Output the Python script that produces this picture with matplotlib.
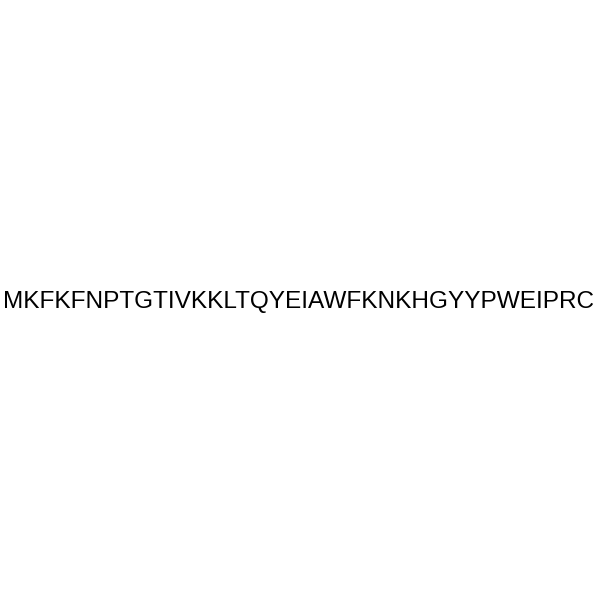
import matplotlib
matplotlib.use("Agg")
import matplotlib.pyplot as plt

# peptide sequence shown in the picture
sequence = "MKFKFNPTGTIVKKLTQYEIAWFKNKHGYYPWEIPRC"

fig = plt.figure(figsize=(6, 6), dpi=100)
fig.patch.set_facecolor("white")

fig.text(0.497, 0.497, sequence, ha="center", va="center",
         fontsize=17.6, family="Liberation Sans", color="black")

plt.savefig("out.png", dpi=100, facecolor="white")
